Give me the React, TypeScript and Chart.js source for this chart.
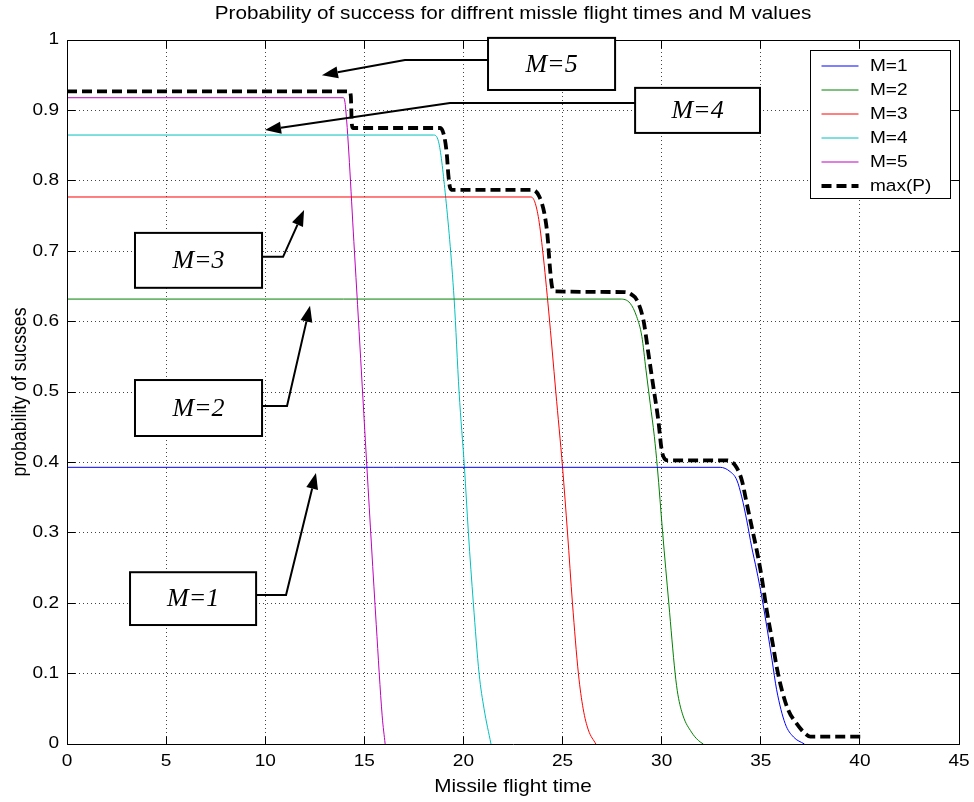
import React, { useEffect, useRef } from 'react';
import { Chart, registerables } from 'chart.js';

Chart.register(...registerables);

const TITLE = 'Probability of success for diffrent missle flight times and M values';
const X_LABEL = 'Missile flight time';
const Y_LABEL = 'probability of sucsses';

const X_TICKS = [0, 5, 10, 15, 20, 25, 30, 35, 40, 45];
const Y_TICKS = [0, 0.1, 0.2, 0.3, 0.4, 0.5, 0.6, 0.7, 0.8, 0.9, 1];

const M1_X = [0, 32.95, 33.45, 33.79, 34.04, 34.29, 34.54, 34.79, 35.05, 35.33, 35.57, 35.8, 36.23, 36.65, 37.2];
const M1_Y = [0.393, 0.393, 0.387, 0.375, 0.351, 0.318, 0.28, 0.247, 0.209, 0.162, 0.119, 0.077, 0.029, 0.01, 0];

const M2_X = [0, 27.9, 28.41, 28.74, 29.0, 29.21, 29.42, 29.63, 29.78, 30.05, 30.36, 30.68, 30.82, 31.08, 31.5, 31.85, 32.1];
const M2_Y = [0.632, 0.632, 0.626, 0.607, 0.579, 0.531, 0.484, 0.437, 0.394, 0.3, 0.2, 0.1, 0.07, 0.04, 0.017, 0.005, 0];

const M3_X = [0, 23.4, 23.6, 23.8, 24.0, 24.3, 24.66, 25.0, 25.25, 25.5, 25.8, 26.04, 26.3, 26.68];
const M3_Y = [0.777, 0.777, 0.77, 0.745, 0.7, 0.615, 0.5, 0.393, 0.3, 0.2, 0.1, 0.05, 0.02, 0];

const M4_X = [0, 18.49, 18.74, 19.08, 19.53, 19.78, 20.05, 20.25, 20.5, 20.79, 21.04, 21.39];
const M4_Y = [0.865, 0.865, 0.856, 0.783, 0.632, 0.5, 0.393, 0.3, 0.2, 0.1, 0.05, 0];

const M5_X = [0, 13.95, 14.05, 14.5, 15.13, 15.6, 15.9, 16.05];
const M5_Y = [0.918, 0.918, 0.905, 0.7, 0.393, 0.17, 0.04, 0];

const MAXP_X = [0, 14.25, 14.32, 14.36, 14.42, 18.83, 19.04, 19.16, 19.24, 19.33, 19.45, 23.49, 23.82, 24.08, 24.24, 24.36, 24.46, 24.58, 28.15, 28.5, 28.74, 29.08, 29.33, 29.58, 29.83, 30.0, 30.15, 30.3, 33.28, 33.7, 34.04, 34.29, 34.54, 34.79, 35.04, 35.3, 35.6, 35.8, 36.06, 36.39, 36.81, 37.23, 37.5, 40.2];
const MAXP_Y = [0.927, 0.927, 0.92, 0.885, 0.875, 0.875, 0.862, 0.838, 0.808, 0.79, 0.787, 0.787, 0.778, 0.754, 0.722, 0.678, 0.651, 0.643, 0.642, 0.638, 0.631, 0.602, 0.555, 0.5075, 0.46, 0.4176, 0.405, 0.403, 0.403, 0.396, 0.375, 0.342, 0.309, 0.276, 0.238, 0.19, 0.143, 0.11, 0.077, 0.048, 0.029, 0.015, 0.0104, 0.0104];

const SERIES_LABELS = ['M=1', 'M=2', 'M=3', 'M=4', 'M=5', 'max(P)'];
const SERIES_COLORS = ['#0000ff', '#008000', '#ff0000', '#00bfbf', '#bf00bf', '#000000'];

// annotation text boxes with arrows (data coordinates)
const ANNOT_TEXT = ['M=5', 'M=4', 'M=3', 'M=2', 'M=1'];
const ANNOT_BOX_X = [[21.24, 27.65], [28.66, 34.96], [3.43, 9.84], [3.43, 9.84], [3.18, 9.54]];
const ANNOT_BOX_Y = [[1.003, 0.929], [0.932, 0.868], [0.726, 0.648], [0.517, 0.4375], [0.244, 0.169]];
const ANNOT_PATH_X = [[21.24, 17.05, 12.86], [28.66, 19.32, 9.99], [9.84, 10.9, 11.96], [9.84, 11.1, 12.26], [9.54, 11.05, 12.56]];
const ANNOT_PATH_Y = [[0.9716, 0.9716, 0.95], [0.9105, 0.9105, 0.872], [0.692, 0.692, 0.7585], [0.48, 0.48, 0.6225], [0.2116, 0.2116, 0.385]];

const SANS = '"Liberation Sans", Arial, Helvetica, sans-serif';
const SERIF = '"Liberation Serif", "Times New Roman", serif';
const STRETCH = 1.17;

function sText(ctx: any, text: string, x: number, y: number, align: string, font: string, rot = 0) {
  ctx.save();
  ctx.translate(x, y);
  ctx.scale(STRETCH, 1);
  if (rot) ctx.rotate(rot);
  ctx.font = font;
  ctx.textAlign = align;
  ctx.textBaseline = 'middle';
  ctx.fillStyle = '#000';
  ctx.fillText(text, 0, 0);
  ctx.restore();
}

const decorPlugin = {
  id: 'decor',
  afterDatasetsDraw(chart: any) {
    const { ctx, chartArea: a, scales } = chart;
    const al = (v: number) => Math.round(v - 0.5) + 0.5;
    const L = al(a.left), R = al(a.right), T = al(a.top), B = al(a.bottom);
    ctx.save();
    ctx.strokeStyle = '#000';
    ctx.lineWidth = 1;
    ctx.setLineDash([]);
    ctx.beginPath();
    ctx.rect(L, T, R - L, B - T);
    ctx.stroke();
    const tl = 8;
    ctx.beginPath();
    X_TICKS.forEach((v) => {
      const px = al(scales.x.getPixelForValue(v));
      ctx.moveTo(px, B); ctx.lineTo(px, B - tl);
      ctx.moveTo(px, T); ctx.lineTo(px, T + tl);
    });
    Y_TICKS.forEach((v) => {
      const py = al(scales.y.getPixelForValue(v));
      ctx.moveTo(L, py); ctx.lineTo(L + tl, py);
      ctx.moveTo(R, py); ctx.lineTo(R - tl, py);
    });
    ctx.stroke();
    ctx.restore();
  },
  afterDraw(chart: any) {
    const { ctx, chartArea: a, scales } = chart;
    const sx = (v: number) => scales.x.getPixelForValue(v);
    const sy = (v: number) => scales.y.getPixelForValue(v);
    ctx.save();
    const tickFont = `16.3px ${SANS}`;
    const labFont = `17.7px ${SANS}`;
    // tick labels
    X_TICKS.forEach((v) => sText(ctx, String(v), sx(v), a.bottom + 18, 'center', tickFont));
    Y_TICKS.forEach((v) => sText(ctx, String(v), a.left - 8, sy(v), 'right', tickFont));
    // titles
    sText(ctx, TITLE, (a.left + a.right) / 2, 14, 'center', labFont);
    sText(ctx, X_LABEL, (a.left + a.right) / 2, 787, 'center', labFont);
    sText(ctx, Y_LABEL, 20, (a.top + a.bottom) / 2, 'center', labFont, -Math.PI / 2);

    // annotations
    ANNOT_TEXT.forEach((txt, i) => {
      const x1 = sx(ANNOT_BOX_X[i][0]), x2 = sx(ANNOT_BOX_X[i][1]);
      const y1 = sy(ANNOT_BOX_Y[i][0]), y2 = sy(ANNOT_BOX_Y[i][1]);
      ctx.fillStyle = '#fff';
      ctx.fillRect(x1, y1, x2 - x1, y2 - y1);
      ctx.strokeStyle = '#000';
      ctx.lineWidth = 2;
      ctx.setLineDash([]);
      ctx.strokeRect(x1, y1, x2 - x1, y2 - y1);
      ctx.fillStyle = '#000';
      ctx.font = `italic 26px ${SERIF}`;
      ctx.textAlign = 'center';
      ctx.textBaseline = 'middle';
      ctx.fillText(txt, (x1 + x2) / 2, (y1 + y2) / 2 + 1);
      const px = ANNOT_PATH_X[i].map(sx);
      const py = ANNOT_PATH_Y[i].map(sy);
      const n = px.length;
      const tx = px[n - 1], ty = py[n - 1];
      const ang = Math.atan2(ty - py[n - 2], tx - px[n - 2]);
      const hl = 16, hw = 6;
      const bx = tx - hl * Math.cos(ang), by = ty - hl * Math.sin(ang);
      ctx.beginPath();
      ctx.moveTo(px[0], py[0]);
      for (let k = 1; k < n - 1; k++) ctx.lineTo(px[k], py[k]);
      ctx.lineTo(bx, by);
      ctx.lineWidth = 2;
      ctx.stroke();
      ctx.beginPath();
      ctx.moveTo(tx, ty);
      ctx.lineTo(bx + hw * Math.sin(ang), by - hw * Math.cos(ang));
      ctx.lineTo(bx - hw * Math.sin(ang), by + hw * Math.cos(ang));
      ctx.closePath();
      ctx.fill();
    });

    // legend
    const lw = 140, lh = 148;
    const lx = Math.round(a.right - 149) + 0.5, ly = Math.round(a.top + 10) + 0.5;
    ctx.fillStyle = '#fff';
    ctx.fillRect(lx, ly, lw, lh);
    ctx.strokeStyle = '#000';
    ctx.lineWidth = 1;
    ctx.setLineDash([]);
    ctx.strokeRect(lx, ly, lw, lh);
    chart.data.datasets.forEach((ds: any, i: number) => {
      const ry = Math.round(ly + 15 + i * 24);
      ctx.save();
      ctx.strokeStyle = SERIES_COLORS[i];
      ctx.lineWidth = ds.borderWidth;
      ctx.setLineDash(ds.borderDash || []);
      ctx.beginPath();
      ctx.moveTo(lx + 11, ry);
      ctx.lineTo(lx + 48, ry);
      ctx.stroke();
      ctx.restore();
      sText(ctx, ds.label, lx + 59.5, ry + 0.5, 'left', `16.3px ${SANS}`);
    });
    ctx.restore();
  },
};

export default function App() {
  const ref = useRef<HTMLCanvasElement>(null);
  useEffect(() => {
    const canvas = ref.current;
    if (!canvas) return;
    const mk = (xs: number[], ys: number[]) => xs.map((x, i) => ({ x, y: ys[i] }));
    const xsAll = [M1_X, M2_X, M3_X, M4_X, M5_X, MAXP_X];
    const ysAll = [M1_Y, M2_Y, M3_Y, M4_Y, M5_Y, MAXP_Y];
    const datasets = SERIES_LABELS.map((label, i) => {
      const isMax = i === SERIES_LABELS.length - 1;
      return {
        label,
        data: mk(xsAll[i], ysAll[i]),
        borderColor: SERIES_COLORS[i],
        backgroundColor: SERIES_COLORS[i],
        borderWidth: isMax ? 3.8 : 1,
        borderDash: isMax ? [10, 5] : [],
        pointRadius: 0,
        fill: false,
        cubicInterpolationMode: 'monotone' as const,
        order: isMax ? 0 : 1 + i,
      };
    });
    const chart = new Chart(canvas, {
      type: 'line',
      data: { datasets },
      options: {
        responsive: false,
        animation: false,
        devicePixelRatio: 1,
        layout: { padding: { top: 40, right: 15, left: 0, bottom: 0 } },
        plugins: {
          legend: { display: false },
          title: { display: false },
          tooltip: { enabled: false },
        },
        scales: {
          x: {
            type: 'linear',
            min: 0,
            max: 45,
            afterBuildTicks: (s: any) => { s.ticks = X_TICKS.map((v) => ({ value: v })); },
            afterFit: (s: any) => { s.height = 58; },
            grid: { color: '#444', lineWidth: 1, drawTicks: false },
            border: { display: false, dash: [1, 3] },
            ticks: { display: false },
          },
          y: {
            type: 'linear',
            min: 0,
            max: 1,
            afterBuildTicks: (s: any) => { s.ticks = Y_TICKS.map((v) => ({ value: v })); },
            afterFit: (s: any) => { s.width = 67; },
            grid: { color: '#444', lineWidth: 1, drawTicks: false },
            border: { display: false, dash: [1, 3] },
            ticks: { display: false },
          },
        },
      } as any,
      plugins: [decorPlugin],
    });
    return () => chart.destroy();
  }, []);
  return (
    <div style={{ position: 'absolute', left: 0, top: 0, width: 974, height: 802, background: '#fff' }}>
      <canvas ref={ref} width={974} height={802} style={{ display: 'block', width: 974, height: 802 }} />
    </div>
  );
}
